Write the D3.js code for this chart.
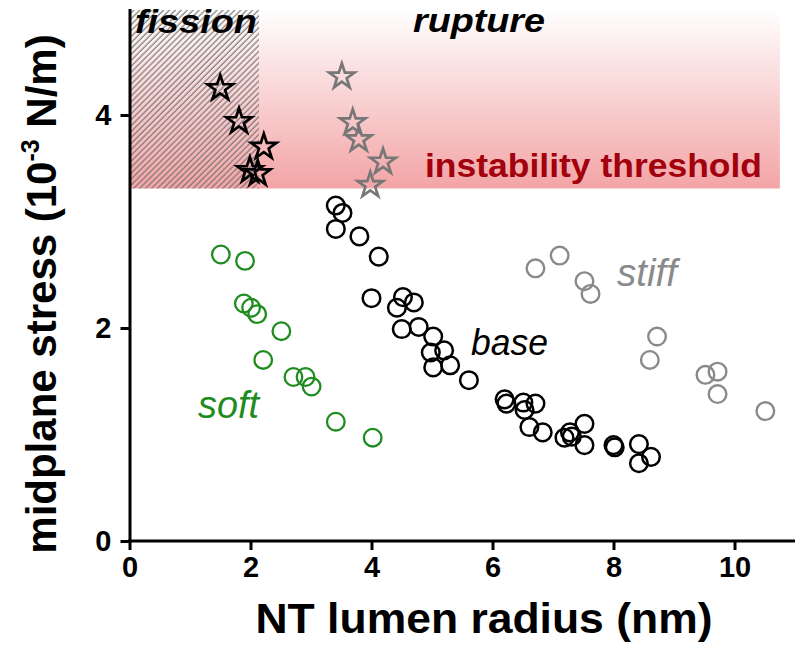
<!DOCTYPE html>
<html>
<head>
<meta charset="utf-8">
<script src="https://cdn.jsdelivr.net/npm/d3@7"></script>
<style>
  html, body { margin: 0; padding: 0; background: #fff; }
  svg { display: block; }
  text { font-family: "Liberation Sans", Arial, Helvetica, sans-serif; }
</style>
</head>
<body>
<svg id="chart" width="808" height="651"></svg>
<script>
// Fission (tubes that divide) – black stars
const fissionX = [1.50, 1.81, 2.22, 1.99, 2.12];
const fissionY = [4.25, 3.94, 3.70, 3.48, 3.45];
// Rupture – gray stars
const ruptureX = [3.51, 3.69, 3.79, 4.19, 3.98];
const ruptureY = [4.36, 3.93, 3.77, 3.56, 3.34];
// Base membrane – black circles
const baseX = [3.41, 3.52, 3.41, 3.80, 4.12, 4.00, 4.52, 4.70, 4.42, 4.50, 4.78, 5.02, 5.20, 4.98, 5.02, 5.30, 5.61,
               6.20, 6.23, 6.51, 6.71, 6.53, 6.61, 6.83, 7.28, 7.52, 7.19, 7.31, 7.52, 8.02, 8.00, 8.42, 8.62, 8.42];
const baseY = [3.15, 3.08, 2.93, 2.86, 2.67, 2.28, 2.29, 2.24, 2.19, 1.99, 2.01, 1.92, 1.79, 1.77, 1.63, 1.65, 1.51,
               1.33, 1.29, 1.30, 1.29, 1.23, 1.07, 1.02, 1.02, 1.10, 0.97, 0.98, 0.90, 0.88, 0.90, 0.91, 0.79, 0.73];
// Soft membrane – green circles
const softX = [1.51, 1.91, 1.89, 2.01, 2.11, 2.51, 2.21, 2.71, 2.91, 3.01, 3.41, 4.02];
const softY = [2.69, 2.63, 2.23, 2.19, 2.13, 1.97, 1.70, 1.54, 1.54, 1.45, 1.12, 0.97];
// Stiff membrane – gray circles
const stiffX = [6.71, 7.11, 7.52, 7.62, 8.72, 8.60, 9.52, 9.72, 9.72, 10.51];
const stiffY = [2.56, 2.68, 2.44, 2.32, 1.92, 1.70, 1.56, 1.59, 1.38, 1.22];

const xTicks = [0, 2, 4, 6, 8, 10];
const yTicks = [0, 2, 4];
const threshold = 3.31;    // instability threshold stress
const fissionMaxR = 2.14;  // upper radius of the fission zone
const bandMaxR = 10.75;    // right end of the shaded band
const xDomain = [0, 11];
const yDomain = [0, 5];

const svg = d3.select("#chart");
const x = d3.scaleLinear().domain(xDomain).range([129.5, 795]);
const y = d3.scaleLinear().domain(yDomain).range([541, 8.5]);

const defs = svg.append("defs");
const grad = defs.append("linearGradient")
  .attr("id", "band").attr("x1", 0).attr("y1", 0).attr("x2", 0).attr("y2", 1);
grad.append("stop").attr("offset", "0%").attr("stop-color", "#ffffff");
grad.append("stop").attr("offset", "100%").attr("stop-color", "#f3a4a6");

const hatch = defs.append("pattern")
  .attr("id", "hatch").attr("patternUnits", "userSpaceOnUse")
  .attr("width", 4.2).attr("height", 4.2)
  .attr("patternTransform", "rotate(45)");
hatch.append("line")
  .attr("x1", 1).attr("y1", 0).attr("x2", 1).attr("y2", 4.2)
  .attr("stroke", "#6e6e6e").attr("stroke-width", 1.2);

// Unstable region above the threshold
svg.append("rect")
  .attr("x", x(0)).attr("y", y(yDomain[1]))
  .attr("width", x(bandMaxR) - x(0))
  .attr("height", y(threshold) - y(yDomain[1]))
  .attr("fill", "url(#band)");

// Fission zone
svg.append("rect")
  .attr("x", x(0)).attr("y", y(yDomain[1]) + 1.5)
  .attr("width", x(fissionMaxR) - x(0))
  .attr("height", y(threshold) - y(yDomain[1]) - 1.5)
  .attr("fill", "url(#hatch)").attr("opacity", 0.9);

// Axes
const fmt = d3.format("d");
const xAxis = svg.append("g")
  .attr("transform", `translate(0,${y(0)})`)
  .call(d3.axisBottom(x).tickValues(xTicks).tickFormat(fmt).tickSize(9).tickSizeOuter(0).tickPadding(6));
const yAxis = svg.append("g")
  .attr("transform", `translate(${x(0)},0)`)
  .call(d3.axisLeft(y).tickValues(yTicks).tickFormat(fmt).tickSize(9).tickSizeOuter(0).tickPadding(9));

[xAxis, yAxis].forEach(g => {
  g.select(".domain").attr("stroke", "#000").attr("stroke-width", 3);
  g.selectAll(".tick line").attr("stroke", "#000").attr("stroke-width", 3);
  g.selectAll(".tick text")
    .attr("fill", "#000")
    .style("font-family", "'Liberation Sans', Arial, sans-serif")
    .style("font-size", "29px").style("font-weight", "bold");
});
// extend the x axis line under the y axis
xAxis.select(".domain").attr("d", `M${x(0) - 1.5},0H${x(xDomain[1])}`);

// Circle series
function circles(xs, ys, color, width) {
  svg.append("g").selectAll("circle")
    .data(xs.map((v, i) => [v, ys[i]]))
    .join("circle")
    .attr("cx", d => x(d[0])).attr("cy", d => y(d[1]))
    .attr("r", 8.8)
    .attr("fill", "none").attr("stroke", color).attr("stroke-width", width);
}
circles(softX, softY, "#1f8c1f", 2.3);
circles(stiffX, stiffY, "#8a8a8a", 2.4);
circles(baseX, baseY, "#000", 2.5);

// Star series
const star = d3.symbol().type(d3.symbolStar).size(200);
function stars(xs, ys, color) {
  svg.append("g").selectAll("path")
    .data(xs.map((v, i) => [v, ys[i]]))
    .join("path")
    .attr("d", star)
    .attr("transform", d => `translate(${x(d[0])},${y(d[1])})`)
    .attr("fill", "none").attr("stroke", color)
    .attr("stroke-width", 2.7).attr("stroke-linejoin", "miter");
}
stars(ruptureX, ruptureY, "#777");
stars(fissionX, fissionY, "#000");

// Text labels
function label(txt, px, py, opts) {
  const t = svg.append("text")
    .attr("x", px).attr("y", py)
    .attr("fill", opts.color || "#000")
    .style("font-size", opts.size + "px")
    .style("font-weight", opts.weight || "normal")
    .style("font-style", opts.style || "normal")
    .text(txt);
  if (opts.width) t.attr("textLength", opts.width).attr("lengthAdjust", "spacingAndGlyphs");
  return t;
}
label("fission", 135, 33, {size: 34, weight: "bold", style: "italic", width: 122});
label("rupture", 413, 32, {size: 34, weight: "bold", style: "italic", width: 132});
label("instability threshold", 425, 177, {size: 34, weight: "bold", color: "#a1000c", width: 337});
label("base", 471, 355, {size: 37, style: "italic", width: 77});
label("soft", 198, 418, {size: 38, style: "italic", color: "#1f8c1f", width: 61});
label("stiff", 617, 286, {size: 38, style: "italic", color: "#8a8a8a", width: 60});

// Axis titles
svg.append("text")
  .attr("x", 484).attr("y", 633)
  .attr("text-anchor", "middle")
  .attr("textLength", 457).attr("lengthAdjust", "spacingAndGlyphs")
  .style("font-size", "43px").style("font-weight", "bold")
  .text("NT lumen radius (nm)");

const yt = svg.append("text")
  .attr("transform", "translate(56,294) rotate(-90)")
  .attr("text-anchor", "middle")
  .style("font-size", "42px").style("font-weight", "bold");
yt.append("tspan").text("midplane stress (10");
yt.append("tspan").attr("dy", -17).style("font-size", "25px").text("-3");
yt.append("tspan").attr("dy", 17).text(" N/m)");
</script>
</body>
</html>
